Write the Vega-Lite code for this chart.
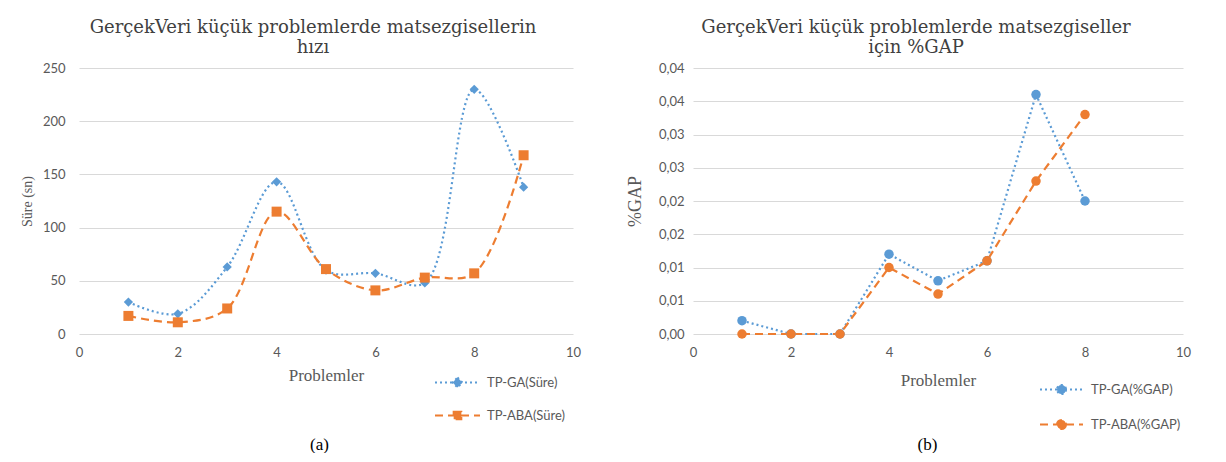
{
  "$schema": "https://vega.github.io/schema/vega-lite/v6.json",
  "background": "white",
  "padding": {"left": 20, "top": 19, "right": 5, "bottom": 0},
  "spacing": 45,
  "config": {
    "locale": {"number": {"decimal": ",", "thousands": ".", "grouping": [3], "currency": ["", ""]}},
    "view": {"stroke": null},
    "axis": {"labelFont": "Lato", "labelFontSize": 13, "labelColor": "#595959", "titleFont": "Liberation Serif", "titleColor": "#595959", "titleFontWeight": "normal", "domain": false, "ticks": false, "gridColor": "#D9D9D9", "gridWidth": 1, "labelFlush": false},
    "axisX": {"grid": false},
    "legend": {"labelFont": "Lato", "labelFontSize": 13, "labelColor": "#595959"},
    "title": {"font": "DejaVu Serif", "fontWeight": "normal", "color": "#404040"}
  },
  "datasets": {
    "sure": [
      {"problem": 1, "value": 30, "series": "TP-GA(Süre)"},
      {"problem": 2, "value": 19, "series": "TP-GA(Süre)"},
      {"problem": 3, "value": 63, "series": "TP-GA(Süre)"},
      {"problem": 4, "value": 143, "series": "TP-GA(Süre)"},
      {"problem": 5, "value": 60, "series": "TP-GA(Süre)"},
      {"problem": 6, "value": 57, "series": "TP-GA(Süre)"},
      {"problem": 7, "value": 48, "series": "TP-GA(Süre)"},
      {"problem": 8, "value": 230, "series": "TP-GA(Süre)"},
      {"problem": 9, "value": 138, "series": "TP-GA(Süre)"},
      {"problem": 1, "value": 17, "series": "TP-ABA(Süre)"},
      {"problem": 2, "value": 11, "series": "TP-ABA(Süre)"},
      {"problem": 3, "value": 24, "series": "TP-ABA(Süre)"},
      {"problem": 4, "value": 115, "series": "TP-ABA(Süre)"},
      {"problem": 5, "value": 61, "series": "TP-ABA(Süre)"},
      {"problem": 6, "value": 41, "series": "TP-ABA(Süre)"},
      {"problem": 7, "value": 53, "series": "TP-ABA(Süre)"},
      {"problem": 8, "value": 57, "series": "TP-ABA(Süre)"},
      {"problem": 9, "value": 168, "series": "TP-ABA(Süre)"}
    ],
    "gap": [
      {"problem": 1, "value": 0.002, "series": "TP-GA(%GAP)"},
      {"problem": 2, "value": 0, "series": "TP-GA(%GAP)"},
      {"problem": 3, "value": 0, "series": "TP-GA(%GAP)"},
      {"problem": 4, "value": 0.012, "series": "TP-GA(%GAP)"},
      {"problem": 5, "value": 0.008, "series": "TP-GA(%GAP)"},
      {"problem": 6, "value": 0.011, "series": "TP-GA(%GAP)"},
      {"problem": 7, "value": 0.036, "series": "TP-GA(%GAP)"},
      {"problem": 8, "value": 0.020, "series": "TP-GA(%GAP)"},
      {"problem": 1, "value": 0, "series": "TP-ABA(%GAP)"},
      {"problem": 2, "value": 0, "series": "TP-ABA(%GAP)"},
      {"problem": 3, "value": 0, "series": "TP-ABA(%GAP)"},
      {"problem": 4, "value": 0.010, "series": "TP-ABA(%GAP)"},
      {"problem": 5, "value": 0.006, "series": "TP-ABA(%GAP)"},
      {"problem": 6, "value": 0.011, "series": "TP-ABA(%GAP)"},
      {"problem": 7, "value": 0.023, "series": "TP-ABA(%GAP)"},
      {"problem": 8, "value": 0.033, "series": "TP-ABA(%GAP)"}
    ]
  },
  "resolve": {"scale": {"color": "independent", "strokeDash": "independent"}, "legend": {"color": "independent", "strokeDash": "independent"}},
  "hconcat": [
    {
      "title": {"text": "(a)", "orient": "bottom", "anchor": "middle", "frame": "bounds", "dx": 19, "font": "Liberation Serif", "fontSize": 17, "color": "#000000", "offset": 13},
      "vconcat": [
        {
          "width": 494,
          "height": 266,
          "title": {"text": ["GerçekVeri küçük problemlerde matsezgisellerin", "hızı"], "fontSize": 18, "lineHeight": 20, "anchor": "middle", "frame": "group", "dx": -13, "offset": 5},
          "data": {"name": "sure"},
          "encoding": {
            "x": {"field": "problem", "type": "quantitative", "scale": {"domain": [0, 10], "nice": false}, "axis": {"values": [0, 2, 4, 6, 8, 10], "title": "Problemler", "titleFontSize": 17, "labelPadding": 12, "titlePadding": 8}},
            "y": {"field": "value", "type": "quantitative", "scale": {"domain": [0, 250], "nice": false}, "axis": {"values": [0, 50, 100, 150, 200, 250], "title": "Süre (sn)", "titleFontSize": 14, "labelPadding": 14, "titlePadding": 8}}
          },
          "layer": [
            {
              "mark": {"type": "line", "interpolate": "catmull-rom", "strokeWidth": 2.2},
              "encoding": {
                "color": {"field": "series", "type": "nominal", "sort": ["TP-GA(Süre)", "TP-ABA(Süre)"], "scale": {"domain": ["TP-GA(Süre)", "TP-ABA(Süre)"], "range": ["#5B9BD5", "#ED7D31"]},
                  "legend": {"title": null, "orient": "none", "legendX": 355, "legendY": 291, "symbolSize": 2025, "rowPadding": -1, "labelOffset": 6,
                    "symbolType": "M-1,0L1,0",
                    "encode": {"symbols": {"update": {
                      "shape": {"signal": "datum.value === 'TP-GA(Süre)' ? 'M-1,0L1,0M0,-0.22L0.22,0L0,0.22L-0.22,0Z' : 'M-1,0L1,0M-0.17,-0.17L0.17,-0.17L0.17,0.17L-0.17,0.17Z'"},
                      "size": {"value": 2025},
                      "fill": {"signal": "datum.value === 'TP-GA(Süre)' ? '#5B9BD5' : '#ED7D31'"},
                      "stroke": {"signal": "datum.value === 'TP-GA(Süre)' ? '#5B9BD5' : '#ED7D31'"},
                      "strokeDash": {"signal": "datum.value === 'TP-GA(Süre)' ? [2, 3] : [8, 5]"},
                      "strokeWidth": {"value": 2},
                      "opacity": {"value": 1}
                    }}}}},
                "strokeDash": {"field": "series", "type": "nominal", "scale": {"domain": ["TP-GA(Süre)", "TP-ABA(Süre)"], "range": [[2, 3], [8, 5]]}, "legend": null},
                "order": {"field": "problem"}
              }
            },
            {
              "transform": [{"filter": "datum.series === 'TP-GA(Süre)'"}],
              "mark": {"type": "point", "filled": true, "opacity": 1, "shape": "diamond", "size": 85, "color": "#5B9BD5"},
              "encoding": {}
            },
            {
              "transform": [{"filter": "datum.series === 'TP-ABA(Süre)'"}],
              "mark": {"type": "point", "filled": true, "opacity": 1, "shape": "square", "size": 100, "color": "#ED7D31"},
              "encoding": {}
            }
          ]
        }
      ]
    },
    {
      "title": {"text": "(b)", "orient": "bottom", "anchor": "middle", "frame": "bounds", "dx": 19, "font": "Liberation Serif", "fontSize": 17, "color": "#000000", "offset": 3},
      "vconcat": [
        {
          "width": 490,
          "height": 266,
          "title": {"text": ["GerçekVeri küçük problemlerde matsezgiseller", "için %GAP"], "fontSize": 18, "lineHeight": 20, "anchor": "middle", "frame": "group", "dx": -22, "offset": 5},
          "data": {"name": "gap"},
          "encoding": {
            "x": {"field": "problem", "type": "quantitative", "scale": {"domain": [0, 10], "nice": false}, "axis": {"values": [0, 2, 4, 6, 8, 10], "title": "Problemler", "titleFontSize": 17, "labelPadding": 12, "titlePadding": 13}},
            "y": {"field": "value", "type": "quantitative", "scale": {"domain": [0, 0.04], "nice": false}, "axis": {"values": [0, 0.0050001, 0.01, 0.0150001, 0.02, 0.0250001, 0.03, 0.0350001, 0.04], "format": ".2f", "title": "%GAP", "titleFontSize": 18, "labelPadding": 9, "titlePadding": 14}}
          },
          "layer": [
            {
              "mark": {"type": "line", "strokeWidth": 2.2},
              "encoding": {
                "color": {"field": "series", "type": "nominal", "sort": ["TP-GA(%GAP)", "TP-ABA(%GAP)"], "scale": {"domain": ["TP-GA(%GAP)", "TP-ABA(%GAP)"], "range": ["#5B9BD5", "#ED7D31"]},
                  "legend": {"title": null, "orient": "none", "legendX": 346, "legendY": 299, "symbolSize": 1849, "rowPadding": 3, "labelOffset": 7,
                    "symbolType": "M-1,0L1,0",
                    "encode": {"symbols": {"update": {
                      "shape": {"value": "M-1,0L1,0M0.21,0A0.21,0.21 0 1,1 -0.21,0A0.21,0.21 0 1,1 0.21,0Z"},
                      "size": {"value": 1849},
                      "fill": {"signal": "datum.value === 'TP-GA(%GAP)' ? '#5B9BD5' : '#ED7D31'"},
                      "stroke": {"signal": "datum.value === 'TP-GA(%GAP)' ? '#5B9BD5' : '#ED7D31'"},
                      "strokeDash": {"signal": "datum.value === 'TP-GA(%GAP)' ? [2, 3] : [8, 5]"},
                      "strokeWidth": {"value": 2},
                      "opacity": {"value": 1}
                    }}}}},
                "strokeDash": {"field": "series", "type": "nominal", "scale": {"domain": ["TP-GA(%GAP)", "TP-ABA(%GAP)"], "range": [[2, 3], [8, 5]]}, "legend": null},
                "order": {"field": "problem"}
              }
            },
            {
              "mark": {"type": "point", "filled": true, "opacity": 1, "shape": "circle"},
              "encoding": {
                "color": {"field": "series", "type": "nominal", "scale": {"domain": ["TP-GA(%GAP)", "TP-ABA(%GAP)"], "range": ["#5B9BD5", "#ED7D31"]}, "legend": null},
                "size": {"value": 90}
              }
            }
          ]
        }
      ]
    }
  ]
}
